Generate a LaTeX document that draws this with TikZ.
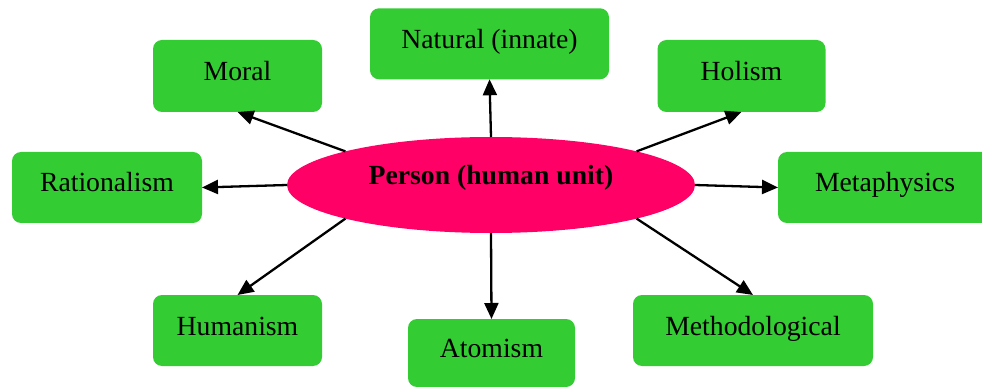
\documentclass[tikz,border=0pt]{standalone}
\usepackage{fontspec}
\setmainfont{Liberation Serif}
\usetikzlibrary{shapes.geometric,arrows.meta}

\definecolor{boxgreen}{HTML}{33CC33}
\definecolor{hubpink}{HTML}{FF0066}

\tikzset{
  topic/.style={fill=boxgreen, rounded corners=9pt, inner sep=0pt, outer sep=0pt,
    text height=20.5pt, text depth=11.5pt,
    font=\fontsize{27.7}{33}\selectfont},
  hub/.style={ellipse, fill=hubpink, inner sep=0pt, outer sep=0pt,
    minimum width=408pt, minimum height=96pt,
    text height=10pt, text depth=10pt,
    font=\fontsize{27.7}{33}\selectfont\bfseries},
  link/.style={draw=black, line width=2.3pt, -{Triangle[length=16pt,width=14pt]}}
}

\begin{document}
\begin{tikzpicture}[x=1pt, y=-1pt]
  \useasboundingbox (0,0) rectangle (982,387);

  % central concept
  \node[hub] (p) at (491,185) {Person (human unit)};

  % surrounding concepts
  \node[topic, minimum width=239pt, minimum height=71pt] (nat)  at (489.5,43.8) {Natural (innate)};
  \node[topic, minimum width=169pt, minimum height=72pt] (mor)  at (237.5,76)   {Moral};
  \node[topic, minimum width=168pt, minimum height=72pt] (hol)  at (741.5,76)   {Holism};
  \node[topic, minimum width=190pt, minimum height=71pt] (rat)  at (107,187.5)  {Rationalism};
  \node[topic, minimum width=214pt, minimum height=71pt] (meta) at (885,187.5)  {Metaphysics};
  \node[topic, minimum width=169pt, minimum height=71pt] (hum)  at (237.5,330.5) {Humanism};
  \node[topic, minimum width=167pt, minimum height=68pt] (atom) at (491.5,353)  {Atomism};
  \node[topic, minimum width=240pt, minimum height=71pt] (meth) at (753,330.5)  {Methodological};

  % connectors
  \draw[link] (p.north) -- (nat.south);
  \draw[link] (p.167)   -- (mor.south);
  \draw[link] (p.13)    -- (hol.south);
  \draw[link] (p.west)  -- (rat.east);
  \draw[link] (p.east)  -- (meta.west);
  \draw[link] (p.193)   -- (hum.north);
  \draw[link] (p.south) -- (atom.north);
  \draw[link] (p.-13)   -- (meth.north);
\end{tikzpicture}
\end{document}
